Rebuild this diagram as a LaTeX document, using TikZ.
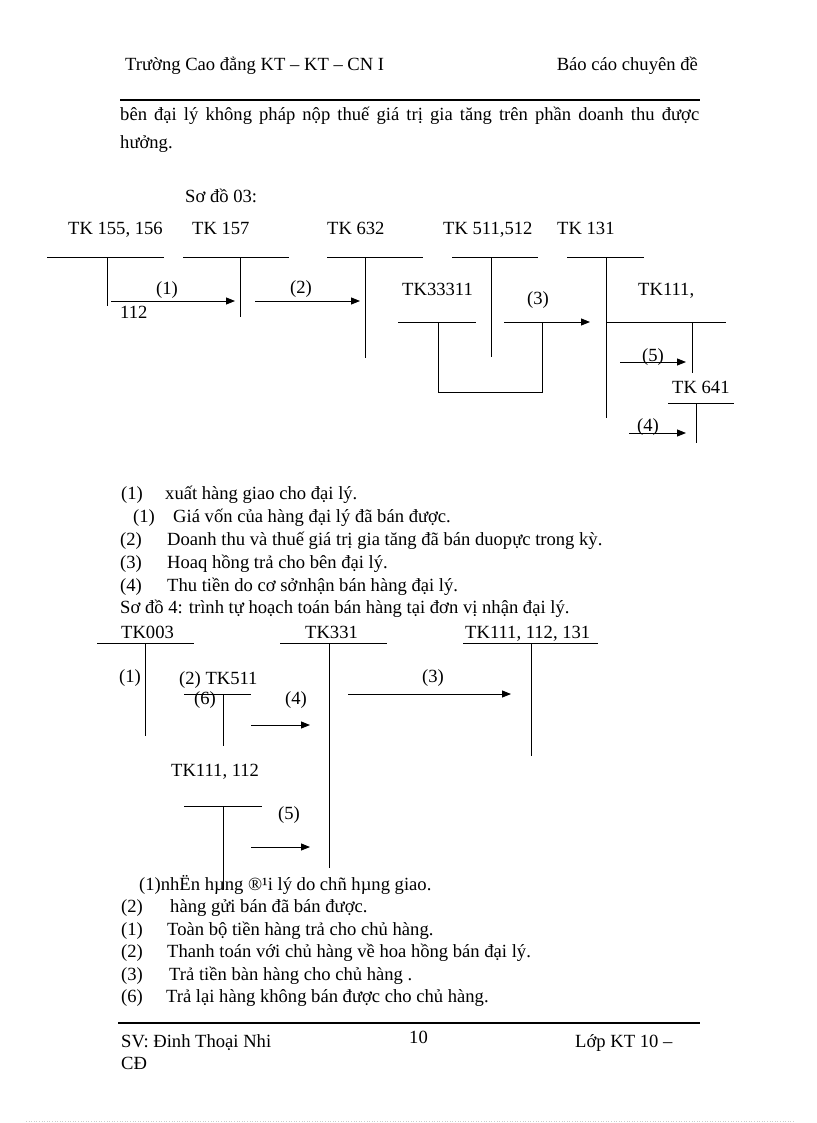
\documentclass[tikz,border=0pt]{standalone}
\usepackage{fontspec}
\setmainfont{Liberation Serif}
\usetikzlibrary{arrows.meta}
\begin{document}
\begin{tikzpicture}[x=1pt,y=-1pt,
  txt/.style={anchor=base west,inner sep=0pt,font=\fontsize{18.6}{22}\selectfont},
  lbl/.style={anchor=center,inner sep=0pt,font=\fontsize{18.6}{22}\selectfont},
  acc/.style={line width=0.9pt},
  rule/.style={line width=2pt},
  flow/.style={line width=0.9pt,-{Triangle[length=9pt,width=7pt]}}]
\useasboundingbox (0,0) rectangle (816,1123);
% header
\node[txt] (h1) at (125,71) {Trường Cao đẳng KT – KT – CN I};
\node[txt,anchor=base east] (h2) at (698,71) {Báo cáo chuyên đề};
\coordinate (r1a) at (120,100); \coordinate (r1b) at (700,100);
\draw[rule] (r1a) -- (r1b);
\node[txt] (p1) at (120,121) {\makebox[579pt][s]{bên đại lý không pháp nộp thuế giá trị gia tăng trên phần doanh thu được}};
\node[txt] (p2) at (120,149) {hưởng.};
% So do 03
\node[txt] (sd3) at (185,203) {Sơ đồ 03:};
\node[txt] (t155) at (68,235) {TK 155, 156};
\node[txt] (t157) at (192,235) {TK 157};
\node[txt] (t632) at (327,235) {TK 632};
\node[txt] (t511) at (443,235) {TK 511,512};
\node[txt] (t131) at (557,235) {TK 131};
\draw[acc] (47,257) -- (164,257) (107,257) -- (107,306);
\draw[acc] (183,257) -- (289,257) (240,257) -- (240,317);
\draw[acc] (327,257) -- (423,257) (365,257) -- (365,358);
\draw[acc] (452,257) -- (538,257) (491,257) -- (491,357);
\draw[acc] (567,257) -- (644,257) (606,257) -- (606,418);
\coordinate (a1s) at (111,301); \coordinate (a1e) at (235,301);
\draw[flow] (a1s) -- (a1e);
\node[lbl] (l1) at (167,290) {(1)};
\node[txt] (n112) at (120,318) {112};
\coordinate (a2s) at (255,301); \coordinate (a2e) at (360,301);
\draw[flow] (a2s) -- (a2e);
\node[lbl] (l2) at (301,289) {(2)};
\node[txt] (t333) at (402,295) {TK33311};
\draw[acc] (398,322) -- (476,322);
\draw[acc] (438,322) -- (438,392) -- (542,392) -- (542,322);
\coordinate (a3s) at (504,322); \coordinate (a3e) at (590,322);
\draw[flow] (a3s) -- (a3e);
\node[lbl] (l3) at (538,300) {(3)};
\node[txt] (t111) at (638,295) {TK111,};
\draw[acc] (606,322) -- (726,322) (692,322) -- (692,373);
\coordinate (a5s) at (620,362); \coordinate (a5e) at (686,362);
\draw[flow] (a5s) -- (a5e);
\node[lbl] (l5) at (653,357) {(5)};
\node[txt] (t641) at (672,393) {TK 641};
\draw[acc] (668,403) -- (734,403) (696,403) -- (696,443);
\coordinate (a4s) at (629,433); \coordinate (a4e) at (686,433);
\draw[flow] (a4s) -- (a4e);
\node[lbl] (l4) at (648,427) {(4)};
% list 1
\node[txt] (q1) at (121,499) {(1)};
\node[txt] (q1t) at (165,499) {xuất hàng giao cho đại lý.};
\node[txt] (q2) at (133,522) {(1)};
\node[txt] (q2t) at (173,522) {Giá vốn của hàng đại lý đã bán được.};
\node[txt] (q3) at (120,545) {(2)};
\node[txt] (q3t) at (167,545) {Doanh thu và thuế giá trị gia tăng đã bán duopực trong kỳ.};
\node[txt] (q4) at (120,568) {(3)};
\node[txt] (q4t) at (167,568) {Hoaq hồng trả cho bên đại lý.};
\node[txt] (q5) at (120,591) {(4)};
\node[txt] (q5t) at (167,591) {Thu tiền do cơ sở\hspace{1pt}nhận bán hàng đại lý.};
\node[txt] (q6) at (120,613) {Sơ đồ 4: trình tự hoạch toán bán hàng tại đơn vị nhận đại lý.};
% So do 4
\node[txt] (u003) at (121,638) {TK003};
\node[txt] (u331) at (305,638) {TK331};
\node[txt] (u111) at (465,638) {TK111, 112, 131};
\draw[acc] (97,643) -- (194,643) (145,643) -- (145,736);
\draw[acc] (280,643) -- (387,643) (329,643) -- (329,868);
\draw[acc] (463,643) -- (598,643) (531,643) -- (531,756);
\node[lbl] (m1) at (130,678) {(1)};
\node[txt] (u511) at (179,684) {(2) TK511};
\draw[acc] (184,694) -- (251,694) (223,694) -- (223,746);
\node[lbl] (m6) at (205,700) {(6)};
\node[lbl] (m4) at (296,700) {(4)};
\coordinate (b4s) at (251,725); \coordinate (b4e) at (310,725);
\draw[flow] (b4s) -- (b4e);
\coordinate (b3s) at (348,694); \coordinate (b3e) at (511,694);
\draw[flow] (b3s) -- (b3e);
\node[lbl] (m3) at (433,678) {(3)};
\node[txt] (u112) at (171,776) {TK111, 112};
\draw[acc] (184,806) -- (262,806) (223,806) -- (223,890);
\node[lbl] (m5) at (289,815) {(5)};
\coordinate (b5s) at (251,847); \coordinate (b5e) at (310,847);
\draw[flow] (b5s) -- (b5e);
% list 2
\node[txt] (w1) at (139,890) {(1)nhËn hµng ®¹i lý do chñ hµng giao.};
\node[txt] (w2) at (121,912) {(2)};
\node[txt] (w2t) at (170,912) {hàng gửi bán đã bán được.};
\node[txt] (w3) at (121,935) {(1)};
\node[txt] (w3t) at (167,935) {Toàn bộ tiền hàng trả cho chủ hàng.};
\node[txt] (w4) at (121,957) {(2)};
\node[txt] (w4t) at (167,957) {Thanh toán với chủ hàng về hoa hồng bán đại lý.};
\node[txt] (w5) at (121,980) {(3)};
\node[txt] (w5t) at (169,980) {Trả tiền bàn hàng cho chủ hàng .};
\node[txt] (w6) at (121,1002) {(6)};
\node[txt] (w6t) at (166,1002) {Trả lại hàng không bán được cho chủ hàng.};
% footer
\coordinate (r2a) at (118,1023); \coordinate (r2b) at (700,1023);
\draw[rule] (r2a) -- (r2b);
\node[txt] (f1) at (121,1047) {SV: Đinh Thoại Nhi};
\node[txt] (f2) at (409,1043) {10};
\node[txt] (f3) at (575,1047) {Lớp KT 10 –};
\node[txt] (f4) at (121,1069) {CĐ};
\coordinate (d1) at (26,1121); \coordinate (d2) at (795,1121);
\draw[gray!40,line width=0.6pt,dotted] (d1) -- (d2);
\end{tikzpicture}
\end{document}
